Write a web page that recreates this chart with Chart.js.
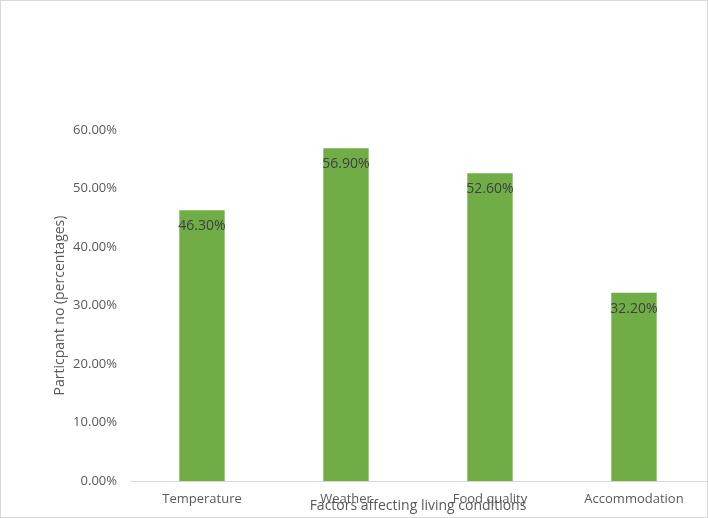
<!DOCTYPE html>
<html>
<head>
<meta charset="utf-8">
<script src="https://cdn.jsdelivr.net/npm/chart.js@4"></script>
<style>
  html, body { margin: 0; padding: 0; background: #fff; }
  #box { width: 708px; height: 518px; box-sizing: border-box; border: 1px solid #d9d9d9; }
  canvas { display: block; }
</style>
</head>
<body>
<div id="box"><canvas id="chart" width="706" height="516"></canvas></div>
<script>
const categories = ['Temperature', 'Weather', 'Food quality', 'Accommodation'];
const values = [0.463, 0.569, 0.526, 0.322];
const yTicks = [0, 0.1, 0.2, 0.3, 0.4, 0.5, 0.6];

const FONT = "'Open Sans', 'Noto Sans', sans-serif";

// labels drawn inside the top of each bar
const barLabels = {
  id: 'barLabels',
  afterDatasetsDraw(chart) {
    const ctx = chart.ctx;
    const meta = chart.getDatasetMeta(0);
    ctx.save();
    ctx.font = '14px ' + FONT;
    ctx.fillStyle = '#404040';
    ctx.textAlign = 'center';
    ctx.textBaseline = 'middle';
    meta.data.forEach((bar, i) => {
      ctx.fillText((values[i] * 100).toFixed(2) + '%', bar.x, bar.y + 16);
    });
    ctx.restore();
  }
};

new Chart(document.getElementById('chart').getContext('2d'), {
  type: 'bar',
  data: {
    labels: categories,
    datasets: [{
      data: values,
      backgroundColor: '#70ad47',
      categoryPercentage: 1,
      barPercentage: 0.315
    }]
  },
  options: {
    responsive: false,
    animation: false,
    layout: { padding: { top: 129, left: 51, right: 1, bottom: 0 } },
    plugins: { legend: { display: false }, tooltip: { enabled: false } },
    scales: {
      x: {
        grid: { display: false },
        border: { display: true, color: '#d9d9d9' },
        ticks: { color: '#595959', font: { family: FONT, size: 13 }, padding: 2 },
        title: {
          display: true,
          text: 'Factors affecting living conditions',
          color: '#595959',
          font: { family: FONT, size: 14 },
          padding: { top: -12, bottom: 3 }
        },
        afterFit(scale) { scale.height = 36; }
      },
      y: {
        min: 0,
        max: 0.6,
        afterBuildTicks(scale) { scale.ticks = yTicks.map(v => ({ value: v })); },
        grid: { display: false },
        border: { display: false },
        ticks: {
          color: '#595959',
          font: { family: FONT, size: 13 },
          padding: 5,
          callback: v => (v * 100).toFixed(2) + '%'
        },
        title: {
          display: true,
          text: 'Particpant no (percentages)',
          color: '#595959',
          font: { family: FONT, size: 14 },
          padding: 0
        },
        afterFit(scale) { scale.width = 78; }
      }
    }
  },
  plugins: [barLabels]
});
</script>
</body>
</html>
